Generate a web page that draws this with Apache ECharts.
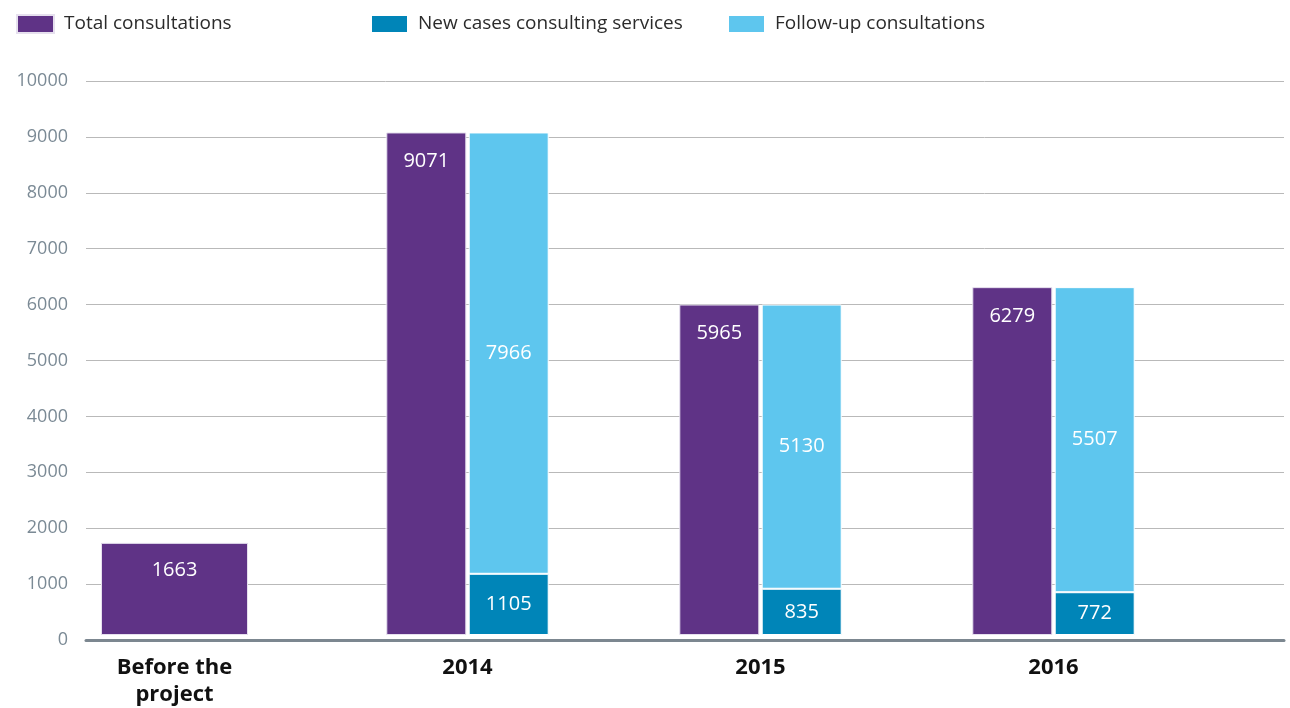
<!DOCTYPE html>
<html>
<head>
<meta charset="utf-8">
<script src="https://cdn.jsdelivr.net/npm/echarts@6/dist/echarts.min.js"></script>
<style>
  html, body { margin: 0; padding: 0; background: #fff; }
  #chart { width: 1290px; height: 708px; }
</style>
</head>
<body>
<div id="chart"></div>
<script>
// categories and values
var categories = ['Before the\nproject', '2014', '2015', '2016'];
var totalBefore = [1663, null, null, null];
var totalYears = [null, 9071, 5965, 6279];
var newCases = [null, 1105, 835, 772];
var followUp = [null, 7966, 5130, 5507];
var yTicks = [0, 10000, 1000];  // min, max, interval

var PURPLE = '#5f3386';
var DARK_BLUE = '#0085b8';
var LIGHT_BLUE = '#5ec6ee';
var FONT = '"Open Sans", "Noto Sans", sans-serif';

var chart = echarts.init(document.getElementById('chart'));

function legendItem(name, left) {
  return {
    data: [name],
    left: left,
    top: 14,
    padding: 0,
    icon: 'rect',
    itemWidth: 37,
    itemHeight: 18,
    itemGap: 0,
    selectedMode: false,
    textStyle: { fontFamily: FONT, fontSize: 19, color: '#2b2b2b', padding: [0, 0, 0, 5] }
  };
}

var barLabel = {
  show: true,
  color: '#fff',
  fontFamily: FONT,
  fontSize: 20
};

var option = {
  animation: false,
  legend: [
    legendItem('Total consultations', 16),
    legendItem('New cases consulting services', 370),
    legendItem('Follow-up consultations', 727)
  ],
  grid: [
    // grid 0: gridlines + y axis
    { left: 86, right: 6, top: 81, bottom: 68 },
    // grid 1: the bars
    { left: 28, right: 90, top: 81, bottom: 68 }
  ],
  xAxis: [
    {
      type: 'category', gridIndex: 1, data: categories,
      axisLine: { show: false }, axisTick: { show: false },
      axisLabel: {
        margin: 19, fontFamily: FONT, fontSize: 22, fontWeight: 'bold',
        color: '#111', lineHeight: 27
      }
    },
    {
      type: 'category', gridIndex: 1, data: categories, show: false
    },
    {
      type: 'category', gridIndex: 0, data: categories, z: 5,
      axisLine: { show: true, lineStyle: { color: '#7c8790', width: 3 } },
      axisTick: { show: false }, axisLabel: { show: false }
    }
  ],
  yAxis: [
    {
      type: 'value', gridIndex: 0,
      min: yTicks[0], max: yTicks[1], interval: yTicks[2],
      axisLine: { show: false }, axisTick: { show: false },
      axisLabel: {
        margin: 18, fontFamily: FONT, fontSize: 18, color: '#7b8a95',
        formatter: function (v) { return String(v); }
      },
      splitLine: { lineStyle: { color: '#b9b9b9', width: 1 } }
    },
    {
      type: 'value', gridIndex: 1,
      min: yTicks[0], max: yTicks[1], interval: yTicks[2], show: false,
      splitLine: { show: false }
    }
  ],
  series: [
    {
      name: 'Total consultations', type: 'bar',
      xAxisIndex: 0, yAxisIndex: 1,
      data: totalYears, barWidth: 80, barGap: '3%',
      itemStyle: { color: PURPLE, borderColor: '#e6e0ee', borderWidth: 1 },
      label: Object.assign({ position: 'insideTop', distance: 19 }, barLabel)
    },
    {
      name: 'New cases consulting services', type: 'bar',
      xAxisIndex: 0, yAxisIndex: 1, stack: 'split',
      data: newCases, barWidth: 80,
      itemStyle: { color: DARK_BLUE, borderColor: '#ffffff', borderWidth: 1 },
      label: Object.assign({ position: 'inside' }, barLabel)
    },
    {
      name: 'Follow-up consultations', type: 'bar',
      xAxisIndex: 0, yAxisIndex: 1, stack: 'split',
      data: followUp, barWidth: 80,
      itemStyle: { color: LIGHT_BLUE, borderColor: '#ffffff', borderWidth: 1 },
      label: Object.assign({ position: 'inside' }, barLabel)
    },
    {
      name: 'Total consultations', type: 'bar',
      xAxisIndex: 1, yAxisIndex: 1,
      data: totalBefore, barWidth: 147,
      itemStyle: { color: PURPLE, borderColor: '#e6e0ee', borderWidth: 1 },
      label: Object.assign({ position: 'insideTop', distance: 17 }, barLabel)
    }
  ]
};

chart.setOption(option);
</script>
</body>
</html>
